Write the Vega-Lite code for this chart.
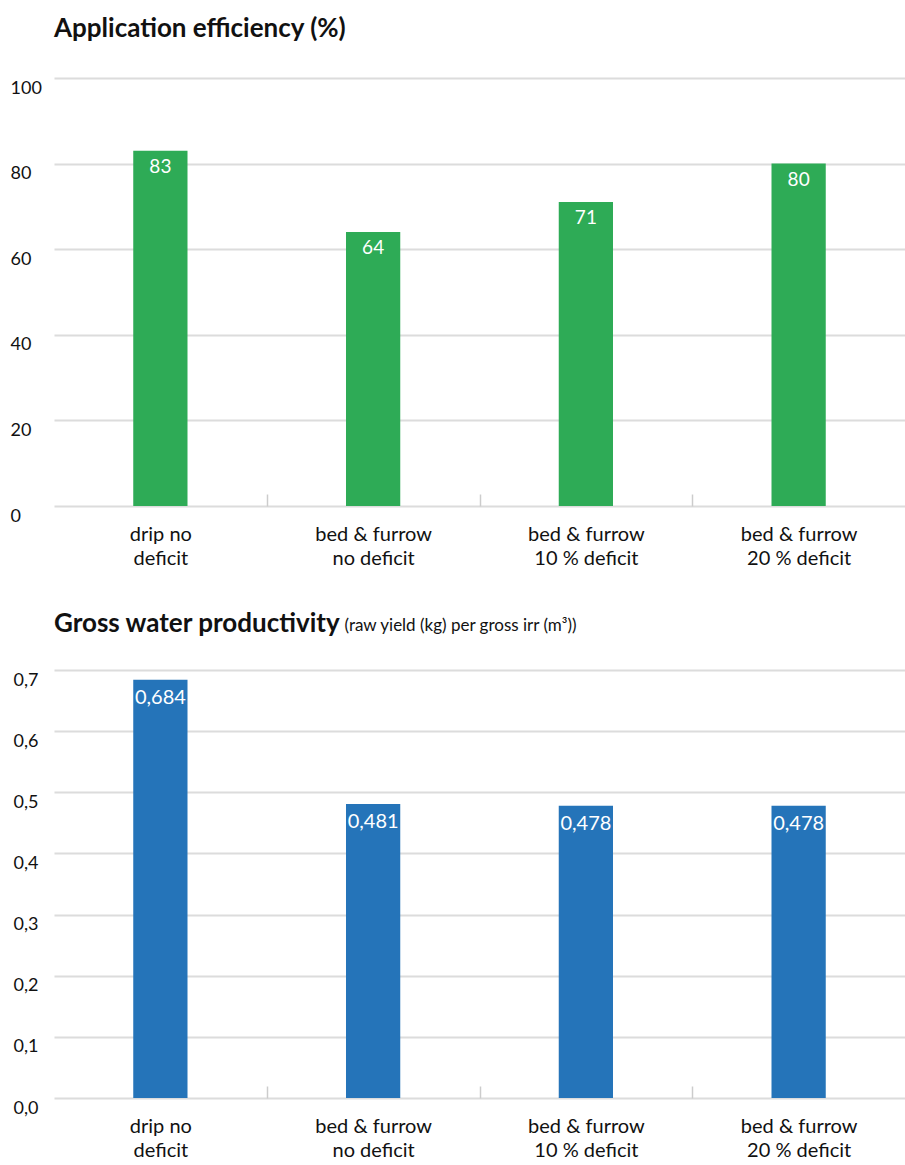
{
  "$schema": "https://vega.github.io/schema/vega-lite/v6.json",
  "background": "white",
  "padding": {"left": 10, "top": 16, "right": 0, "bottom": 0},
  "spacing": 43,
  "config": {
    "font": "Lato",
    "locale": {"number": {"decimal": ",", "thousands": ".", "grouping": [3], "currency": ["", " €"]}},
    "view": {"stroke": null},
    "title": {"anchor": "start", "frame": "group", "fontSize": 26, "fontWeight": "bold", "color": "#111111", "baseline": "alphabetic", "offset": 36},
    "axisY": {"domain": false, "ticks": false, "gridColor": "#dcdcdc", "gridWidth": 2, "labelAlign": "left", "labelPadding": 44, "labelFontSize": 18, "labelColor": "#111111", "labelBaseline": "top", "labelOffset": 1},
    "axisX": {"title": null, "labelExpr": "datum.value ? split(datum.value, '|') : ''", "labelAngle": 0, "labelFontSize": 20, "labelColor": "#111111", "labelLineHeight": 24, "labelBaseline": "top", "labelPadding": 30, "domain": false, "grid": false, "ticks": true, "tickBand": "extent", "tickSize": -12, "tickColor": "#cccccc", "tickWidth": 1.5, "tickOpacity": {"condition": {"test": "!datum.value || indexof(datum.value, '20') >= 0", "value": 0}, "value": 1}}
  },
  "vconcat": [
    {
      "width": 851,
      "height": 428,
      "title": "Application efficiency (%)",
      "data": {"values": [
        {"method": "drip no|deficit", "value": 83},
        {"method": "bed & furrow|no deficit", "value": 64},
        {"method": "bed & furrow|10 % deficit", "value": 71},
        {"method": "bed & furrow|20 % deficit", "value": 80}
      ]},
      "encoding": {
        "x": {"field": "method", "type": "nominal", "sort": null, "scale": {"paddingInner": 0, "paddingOuter": 0}},
        "y": {"field": "value", "type": "quantitative", "scale": {"domain": [0, 100]}, "axis": {"values": [0, 20, 40, 60, 80, 100], "title": null}}
      },
      "layer": [
        {"mark": {"type": "bar", "color": "#2eab56", "width": {"band": 0.255}}},
        {"mark": {"type": "text", "color": "white", "baseline": "top", "dy": 7, "fontSize": 19}, "encoding": {"text": {"field": "value", "type": "quantitative", "format": "d"}}}
      ]
    },
    {
      "width": 851,
      "height": 428,
      "title": {"text": "Gross water productivity", "offset": -21},
      "data": {"values": [
        {"method": "drip no|deficit", "value": 0.684},
        {"method": "bed & furrow|no deficit", "value": 0.481},
        {"method": "bed & furrow|10 % deficit", "value": 0.478},
        {"method": "bed & furrow|20 % deficit", "value": 0.478}
      ]},
      "encoding": {
        "x": {"field": "method", "type": "nominal", "sort": null, "scale": {"paddingInner": 0, "paddingOuter": 0}},
        "y": {"field": "value", "type": "quantitative", "scale": {"domain": [0, 0.7]}, "axis": {"values": [0, 0.1, 0.2, 0.3, 0.4, 0.5, 0.6, 0.7], "format": ".1f", "labelPadding": 41, "title": "(raw yield (kg) per gross irr (m³))", "titleAngle": 0, "titleAlign": "left", "titleBaseline": "alphabetic", "titleX": 290, "titleY": -40, "titleFontSize": 17, "titleFontWeight": "normal", "titleColor": "#111111"}}
      },
      "layer": [
        {"mark": {"type": "bar", "color": "#2574b9", "width": {"band": 0.255}}},
        {"mark": {"type": "text", "color": "white", "baseline": "top", "dy": 8, "fontSize": 20}, "encoding": {"text": {"field": "value", "type": "quantitative", "format": ".3f"}}}
      ]
    }
  ]
}
